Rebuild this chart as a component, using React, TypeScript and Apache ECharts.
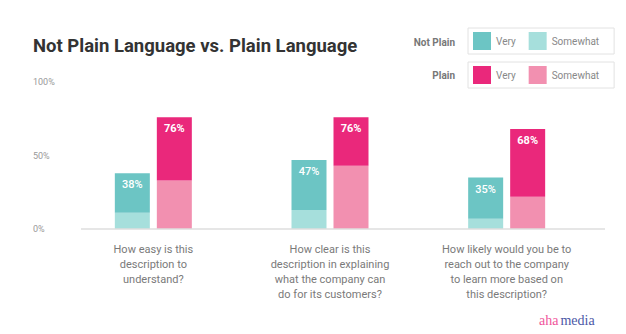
import React, { useEffect, useRef } from "react";
import * as echarts from "echarts";

const categories = [
  "How easy is this\ndescription to\nunderstand?",
  "How clear is this\ndescription in explaining\nwhat the company can\ndo for its customers?",
  "How likely would you be to\nreach out to the company\nto learn more based on\nthis description?",
];
const notPlainTotal = [38, 47, 35];
const notPlainSomewhat = [11, 13, 7];
const plainTotal = [76, 76, 68];
const plainSomewhat = [33, 43, 22];
const yTicks = [0, 50, 100];

const TEAL = "#6cc5c4";
const TEAL_LIGHT = "#a6dfdc";
const PINK = "#ea287b";
const PINK_LIGHT = "#f290b0";
const FONT = "Roboto";

export default function App() {
  const ref = useRef<HTMLDivElement>(null);
  useEffect(() => {
    if (!ref.current) return;
    const chart = echarts.init(ref.current, undefined, { renderer: "svg" });
    const legendText = { color: "#888", fontSize: 10, fontFamily: FONT };
    const option: any = {
      animation: false,
      backgroundColor: "#fff",
      title: {
        text: "Not Plain Language vs. Plain Language",
        left: 33,
        top: 36,
        padding: 0,
        textStyle: { fontSize: 18.5, fontWeight: "bold", color: "#333", fontFamily: FONT },
      },
      legend: [
        {
          data: ["Not Plain Very", "Not Plain Somewhat"],
          left: 468,
          top: 28,
          orient: "horizontal",
          icon: "rect",
          itemWidth: 18,
          itemHeight: 18,
          itemGap: 13,
          padding: [4, 15, 4, 5],
          borderColor: "#e2e2e2",
          borderWidth: 1,
          selectedMode: false,
          textStyle: legendText,
          formatter: (n: string) => n.replace("Not Plain ", ""),
        },
        {
          data: ["Plain Very", "Plain Somewhat"],
          left: 468,
          top: 62,
          orient: "horizontal",
          icon: "rect",
          itemWidth: 18,
          itemHeight: 18,
          itemGap: 13,
          padding: [4, 15, 4, 5],
          borderColor: "#e2e2e2",
          borderWidth: 1,
          selectedMode: false,
          textStyle: legendText,
          formatter: (n: string) => n.replace("Plain ", ""),
        },
      ],
      grid: { left: 65, right: 31, top: 82, bottom: 105, containLabel: false },
      xAxis: {
        type: "category",
        data: categories,
        axisLine: { show: false },
        axisTick: { show: false },
        axisLabel: {
          interval: 0,
          margin: 13,
          color: "#7a7a7a",
          fontSize: 11,
          lineHeight: 15,
          fontFamily: FONT,
          align: "center",
        },
      },
      yAxis: {
        type: "value",
        min: yTicks[0],
        max: yTicks[yTicks.length - 1],
        interval: 50,
        splitLine: { show: false },
        axisLine: { show: false },
        axisTick: { show: false },
        axisLabel: {
          align: "left",
          margin: 32,
          color: "#999",
          fontSize: 9,
          fontFamily: FONT,
          formatter: (v: number) => (yTicks.includes(v) ? v + "%" : ""),
        },
      },
      series: [
        {
          name: "Not Plain Somewhat",
          type: "bar",
          stack: "np",
          barWidth: 35,
          barGap: "20%",
          itemStyle: { color: TEAL_LIGHT },
          data: notPlainSomewhat,
        },
        {
          name: "Not Plain Very",
          type: "bar",
          stack: "np",
          barWidth: 35,
          barGap: "20%",
          itemStyle: { color: TEAL },
          data: notPlainTotal.map((t, i) => t - notPlainSomewhat[i]),
          label: {
            show: true,
            position: "insideTop",
            distance: 6,
            color: "#fff",
            fontSize: 11,
            fontWeight: 500,
            fontFamily: FONT,
            formatter: (p: any) => notPlainTotal[p.dataIndex] + "%",
          },
        },
        {
          name: "Plain Somewhat",
          type: "bar",
          stack: "p",
          barWidth: 35,
          barGap: "20%",
          itemStyle: { color: PINK_LIGHT },
          data: plainSomewhat,
        },
        {
          name: "Plain Very",
          type: "bar",
          stack: "p",
          barWidth: 35,
          barGap: "20%",
          itemStyle: { color: PINK },
          data: plainTotal.map((t, i) => t - plainSomewhat[i]),
          label: {
            show: true,
            position: "insideTop",
            distance: 6,
            color: "#fff",
            fontSize: 11,
            fontWeight: "bold",
            fontFamily: FONT,
            formatter: (p: any) => plainTotal[p.dataIndex] + "%",
          },
        },
      ],
      graphic: [
        {
          type: "line",
          shape: { x1: 81, y1: 229, x2: 605, y2: 229 },
          style: { stroke: "#dedede", lineWidth: 1.5 },
          z: 10,
        },
        {
          type: "text",
          x: 455,
          y: 42,
          style: {
            text: "Not Plain",
            align: "right",
            verticalAlign: "middle",
            fill: "#777",
            fontSize: 10,
            fontWeight: "bold",
            fontFamily: FONT,
          },
        },
        {
          type: "text",
          x: 455,
          y: 75,
          style: {
            text: "Plain",
            align: "right",
            verticalAlign: "middle",
            fill: "#777",
            fontSize: 10,
            fontWeight: "bold",
            fontFamily: FONT,
          },
        },
        {
          type: "text",
          x: 539,
          y: 320,
          style: {
            text: "{a|aha}{m|media}",
            verticalAlign: "middle",
            rich: {
              a: { fill: "#f0559b", fontSize: 14, fontFamily: "Liberation Serif" },
              m: { fill: "#4c58a6", fontSize: 14, fontFamily: "Liberation Serif", padding: [0, 0, 0, 2] },
            },
          },
        },
      ],
    };
    chart.setOption(option);
    return () => chart.dispose();
  }, []);
  return (
    <div
      ref={ref}
      style={{ position: "fixed", left: 0, top: 0, width: 626, height: 334 }}
    />
  );
}
